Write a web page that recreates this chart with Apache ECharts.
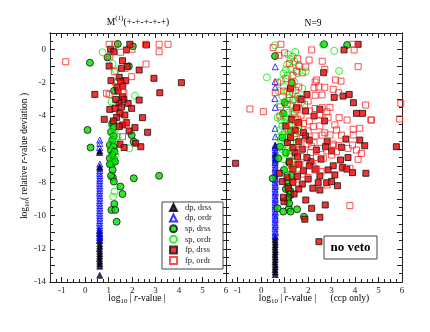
<!DOCTYPE html>
<html>
<head>
<meta charset="utf-8">
<script src="https://cdn.jsdelivr.net/npm/echarts@6/dist/echarts.min.js"></script>
<style>
html, body { margin: 0; padding: 0; background: #fff; }
#main { width: 430px; height: 332px; }
</style>
</head>
<body>
<div id="main"></div>
<script>
// ---- data: [log10|r-value|, log10(relative r-value deviation)] ----
var seriesNames = ['dp, drss', 'dp, ordr', 'sp, drss', 'sp, ordr', 'fp, drss', 'fp, ordr'];

// left panel: M(1)(+-+-+-+-+)
var leftDpDrss = [[0.62,-6.1],[0.61,-6.2],[0.62,-7.05],[0.62,-7.15],[0.61,-10.9],[0.62,-11.1],[0.62,-11.3],[0.61,-11.5],
  [0.62,-11.7],[0.62,-11.85],[0.61,-12.0],[0.62,-12.15],[0.62,-12.3],[0.62,-12.45],[0.61,-12.6],[0.62,-12.75],
  [0.62,-12.9],[0.62,-13.05],[0.62,-13.6]];
var leftDpOrdr = [[0.62,-5.45],[0.62,-5.65],[0.61,-5.9],[0.62,-6.9],[0.62,-7.3],[0.61,-7.45],[0.62,-7.6],[0.62,-7.75],
  [0.62,-7.9],[0.61,-8.05],[0.62,-8.2],[0.62,-8.35],[0.62,-8.5],[0.61,-8.65],[0.62,-8.8],[0.62,-8.95],[0.62,-9.1],
  [0.61,-9.25],[0.62,-9.4],[0.62,-9.55],[0.62,-9.7],[0.61,-9.85],[0.62,-10.0],[0.62,-10.15],[0.62,-10.3],[0.61,-10.45],
  [0.62,-10.6],[0.62,-10.75],[0.62,-10.9],[0.61,-11.05],[0.62,-11.2],[0.62,-11.35],[0.62,-11.5]];
var leftSpDrss = [[1.39,0.34],[2.03,0.2],[0.2,-0.79],[0.95,-0.47],[1.86,-1.0],[0.1,-4.84],[0.23,-5.9],[1.98,-5.15],
  [2.07,-5.55],[1.23,-2.48],[1.15,-4.45],[1.2,-4.7],[1.1,-4.95],[1.22,-5.2],[1.15,-5.45],[1.05,-5.75],[1.2,-5.85],
  [1.1,-6.05],[1.25,-6.15],[1.15,-6.35],[1.05,-6.55],[1.22,-6.6],[1.12,-6.9],[1.27,-6.75],[1.17,-7.25],[1.18,-7.7],
  [1.1,-7.6],[1.22,-7.95],[2.07,-7.75],[3.15,-7.6],[1.5,-8.25],[1.59,-8.7],[1.24,-9.3],[1.12,-9.66],[1.28,-9.66],
  [1.34,-10.37],[1.05,-6.9]];
var leftSpOrdr = [[0.74,-0.16],[1.17,-0.87],[1.31,-1.27],[2.12,-2.78],[1.12,-3.14],[1.25,-4.3],[1.15,-4.6],[1.3,-4.75],
  [1.1,-5.0],[1.25,-5.1],[1.18,-5.35],[1.3,-5.6],[1.08,-5.7],[1.22,-5.95],[1.12,-6.2],[1.28,-6.35],[1.2,-6.6],
  [1.1,-6.85],[1.87,-5.95],[1.14,-5.63],[1.25,-8.55],[1.19,-8.86],[1.38,-5.25],[1.4,-1.9]];
var leftFpDrss = [[1.08,0.02],[1.22,-0.13],[1.9,0.32],[1.76,-0.02],[2.61,0.28],[1.59,-0.67],[1.02,-0.99],[1.55,-1.13],
  [2.3,-1.23],[1.79,-1.03],[2.93,-1.73],[4.1,-1.99],[3.18,-2.6],[0.41,-2.7],[1.1,-1.87],[1.45,-1.67],[1.73,-1.87],
  [1.51,-1.93],[1.36,-2.27],[1.59,-2.84],[1.65,-3.0],[1.44,-3.24],[1.83,-3.24],[2.3,-3.04],[1.05,-3.6],[1.27,-3.54],
  [1.48,-3.84],[1.69,-3.94],[1.98,-3.54],[1.34,-4.08],[0.81,-4.2],[2.44,-4.1],[1.59,-4.54],[1.76,-4.4],[1.45,-4.64],
  [2.12,-4.7],[1.87,-4.9],[2.66,-4.98],[1.48,-5.7],[2.15,-5.64],[2.37,-5.85],[1.66,-5.9],[1.4,-2.5],[1.3,-3.0],
  [1.55,-3.45],[1.2,-4.3],[1.6,-2.2]];
var leftFpOrdr = [[-0.83,-0.73],[1.02,0.32],[1.27,0.32],[2.57,0.32],[3.15,0.32],[3.53,0.32],[3.15,-0.13],[1.51,-0.16],
  [2.0,0.02],[1.05,-0.43],[2.59,-0.87],[1.24,-1.33],[1.69,-1.13],[1.98,-1.63],[1.29,-1.97],[1.48,-2.19],[0.91,-2.63],
  [1.02,-2.7],[1.58,-2.47],[1.44,-3.64],[1.76,-4.44],[1.59,-5.25],[1.65,-2.6]];

// right panel: N=9
var rightDpDrss = [[0.6,-5.8],[0.59,-6.3],[0.6,-6.6],[0.6,-11.3],[0.59,-11.45],[0.6,-11.6],[0.6,-11.75],[0.59,-11.9],
  [0.6,-12.05],[0.6,-12.2],[0.59,-12.35],[0.6,-12.5],[0.6,-12.65],[0.59,-12.8],[0.6,-12.95],[0.6,-13.1],[0.59,-13.25],
  [0.6,-13.4],[0.6,-13.55]];
var rightDpOrdr = [[0.6,-1.03],[0.59,-1.93],[0.6,-2.27],[0.58,-2.94],[0.6,-3.48],[0.59,-4.74],[0.6,-5.25],[0.6,-5.75],
  [0.59,-5.9],[0.6,-6.05],[0.6,-6.2],[0.59,-6.4],[0.6,-6.5],[0.6,-6.7],[0.59,-6.8],[0.6,-6.95],[0.6,-7.1],[0.59,-7.2],
  [0.6,-7.35],[0.6,-7.5],[0.59,-7.6],[0.6,-7.75],[0.6,-7.85],[0.59,-8.0],[0.6,-8.15],[0.6,-8.25],[0.59,-8.4],[0.6,-8.55],
  [0.6,-8.65],[0.59,-8.8],[0.6,-8.95],[0.6,-9.05],[0.59,-9.2],[0.6,-9.35],[0.6,-9.45],[0.59,-9.6],[0.6,-9.75],
  [0.6,-9.85],[0.59,-10.0],[0.6,-10.15],[0.6,-10.25],[0.59,-10.4],[0.6,-10.55],[0.6,-10.65],[0.59,-10.8],[0.6,-10.95],
  [0.6,-11.05],[0.59,-11.2]];
var rightSpDrss = [[0.59,-0.39],[2.68,0.32],[3.66,0.28],[0.94,-3.84],[0.8,-5.85],[0.73,-6.55],[1.19,-6.81],[0.49,-7.76],
  [0.97,-7.25],[1.15,-8.26],[1.22,-8.56],[1.25,-8.76],[1.15,-8.96],[1.12,-9.06],[0.7,-9.56],[0.94,-9.76],[1.18,-9.56],
  [1.25,-9.76],[1.53,-9.62],[1.82,-10.07],[1.19,-9.26],[1.05,-8.4],[1.24,-8.52],[1.3,-2.0],[1.0,-3.2],[1.25,-4.9],
  [0.9,-5.3],[1.05,-6.2],[1.3,-7.6],[1.1,-7.9]];
var rightSpOrdr = [[0.59,0.26],[1.45,-0.14],[1.34,-0.41],[1.24,-0.57],[1.41,-0.71],[1.1,-0.91],[1.27,-1.11],[1.05,-1.21],
  [1.9,-1.31],[0.24,-1.67],[1.55,-1.41],[1.12,-1.57],[0.98,-2.21],[1.27,-2.21],[1.12,-2.51],[0.91,-2.82],[1.2,-2.92],
  [1.34,-2.61],[1.02,-3.12],[1.27,-3.32],[1.08,-3.58],[1.48,-3.62],[2.64,0.3],[3.11,-0.07],[3.32,-1.29],[0.85,-1.9],
  [1.4,-1.95],[0.8,-3.3],[1.15,-3.8],[0.95,-3.95],[1.35,-3.9],[1.05,-4.1],[1.25,-4.15],[0.85,-4.25],[1.45,-4.3],
  [1.0,-4.4],[1.2,-4.5],[0.9,-4.6],[1.35,-4.65],[1.1,-4.75],[0.8,-4.85],[1.0,-4.95],[1.25,-4.95],[1.55,-4.9],
  [0.9,-5.15],[1.15,-5.2],[1.4,-5.25],[1.05,-5.4],[0.85,-5.5],[1.25,-5.55],[1.0,-5.7],[1.5,-5.65],[1.15,-5.9],
  [0.9,-6.0],[1.3,-6.05],[1.05,-6.25],[1.2,-6.45],[0.95,-6.6],[1.3,-6.75],[1.1,-6.95],[1.45,-6.95],[1.2,-7.2],
  [1.05,-7.45],[1.3,-7.5],[0.75,-5.3],[0.7,-4.1],[1.6,-4.55],[1.7,-3.2],[1.55,-2.85],[0.95,-1.45],[1.15,-0.3],
  [1.6,-0.95],[1.75,-2.35],[0.75,-2.5],[1.4,-3.0]];
var rightFpDrss = [[4.13,0.32],[3.53,-0.02],[2.66,-1.39],[1.95,-2.7],[3.11,-2.88],[3.49,-2.8],[3.75,-2.7],[3.93,-3.2],
  [4.32,-3.84],[4.06,-3.84],[5.76,-5.85],[-1.09,-6.85],[1.89,-3.7],[2.5,-3.6],[3.61,-5.39],[4.2,-5.45],[4.41,-5.79],
  [2.81,-5.55],[1.89,-5.2],[1.12,-5.6],[1.44,-6.2],[0.77,-7.45],[0.97,-9.16],[1.9,-9.06],[2.15,-9.56],[2.73,-9.36],
  [1.86,-10.22],[2.5,-10.1],[2.46,-11.57],[4.46,-7.45],[2.5,-8.46],[3.25,-8.2],[3.38,-6.65],[3.07,-7.0],[3.47,-7.09],
  [3.65,-7.2],[3.89,-7.41],[2.85,-7.25],[3.14,-7.55],[2.5,-7.61],[2.79,-8.02],[3.0,-7.95],[2.43,-8.02],[2.74,-5.85],
  [2.12,-6.75],[3.42,-5.89],[1.3,-4.2],[1.6,-4.4],[1.05,-4.6],[1.45,-4.85],[1.8,-5.0],[1.25,-5.3],[1.6,-5.55],
  [2.05,-5.45],[1.35,-5.9],[1.75,-6.0],[2.35,-6.05],[1.55,-6.45],[1.95,-6.5],[2.55,-6.6],[1.2,-6.75],[1.6,-6.9],
  [2.05,-7.0],[2.3,-7.2],[1.35,-7.2],[1.8,-7.3],[1.1,-7.7],[1.55,-7.65],[2.0,-7.8],[1.35,-8.0],[1.75,-8.1],[1.15,-8.35],
  [0.9,-7.95],[1.6,-8.4],[2.2,-8.35],[1.4,-8.7],[0.95,-8.9],[1.7,-3.0],[1.5,-3.5],[2.25,-4.0],[2.7,-4.3],[3.0,-6.1],
  [3.7,-6.5],[1.25,-2.35]];
var rightFpOrdr = [[0.51,0.12],[0.84,0.32],[3.89,0.32],[3.96,-0.02],[2.15,-0.02],[2.04,-0.63],[1.55,-0.55],[1.2,-0.85],
  [1.62,-1.0],[4.13,-1.03],[1.9,-1.05],[1.5,-1.3],[2.71,-1.19],[1.35,-1.55],[1.75,-1.4],[1.05,-1.75],[2.36,-1.83],
  [2.3,-1.95],[3.17,-1.83],[3.4,-1.9],[1.3,-2.0],[1.6,-2.25],[2.25,-2.3],[2.45,-2.25],[2.71,-2.27],[3.07,-2.39],
  [1.45,-2.45],[0.95,-2.5],[1.2,-2.7],[2.59,-2.73],[2.3,-2.75],[0.6,-2.6],[1.65,-2.95],[1.35,-3.05],[2.0,-3.1],
  [1.85,-3.3],[2.93,-3.48],[1.1,-3.3],[0.82,-3.45],[1.55,-3.5],[2.3,-3.55],[2.6,-3.5],[2.05,-3.7],[1.4,-3.75],
  [2.5,-3.9],[2.8,-3.75],[1.7,-3.95],[0.09,-3.74],[-0.48,-3.58],[4.45,-3.34],[5.95,-3.24],[5.9,-4.18],[4.67,-4.24],
  [3.32,-4.1],[3.66,-4.24],[3.92,-4.8],[4.2,-4.74],[3.92,-5.14],[3.14,-4.54],[2.93,-5.14],[2.6,-5.15],[2.3,-5.2],
  [2.0,-4.9],[2.5,-4.6],[2.05,-4.3],[1.8,-4.45],[1.55,-4.2],[1.3,-4.5],[1.6,-4.75],[1.15,-4.9],[1.45,-5.05],
  [1.75,-5.3],[3.32,-5.79],[3.05,-5.8],[3.7,-5.95],[4.06,-6.05],[4.27,-6.25],[4.13,-6.61],[3.78,-7.15],[3.45,-7.15],
  [2.81,-8.16],[3.78,-9.4],[2.36,-7.19],[1.35,-5.6],[1.6,-5.75],[1.95,-5.7],[2.25,-5.6],[2.55,-5.95],[2.8,-6.1],
  [2.1,-6.2],[1.5,-6.05],[1.25,-6.3],[1.7,-6.45],[2.35,-6.5],[2.65,-6.55],[3.0,-6.35],[1.45,-6.8],[1.9,-6.9],
  [2.2,-7.0],[1.6,-7.2],[1.3,-7.0],[2.55,-7.35],[1.75,-7.5],[2.0,-7.7],[1.5,-7.8],[1.25,-7.55],[0.8,-4.0],[0.7,-2.0],
  [0.75,-0.35],[1.0,-0.2],[2.6,-0.7],[3.3,-2.6],[2.5,-3.94],[2.85,-4.08],[2.22,-4.64],[2.71,-5.01],[3.21,-4.84],
  [3.42,-5.15],[4.7,-4.24],[3.89,-5.75],[3.07,-5.69],[3.21,-6.15],[2.14,-5.85],[2.29,-7.25]];

// ---- axes ----
var xLabels = [-1, 0, 1, 2, 3, 4, 5, 6];
var xMajor = [-1, 0, 1, 2, 3, 4, 5, 6];
var yLabels = [0, -2, -4, -6, -8, -10, -12, -14];
var yMajor = [0, -1, -2, -3, -4, -5, -6, -7, -8, -9, -10, -11, -12, -13, -14];
var xMinor = [], yMinor = [];
for (var v = -1.5; v <= 6; v += 0.25) xMinor.push(v);
for (var w = 1; w >= -14; w -= 0.5) yMinor.push(w);

var font = 'Liberation Serif';
var ink = '#222';

function xAxisDef(g, pos, ticks, len, labels) {
  return {
    type: 'value', gridIndex: g, position: pos, min: -1.5, max: 6,
    axisLine: { show: true, onZero: false, lineStyle: { color: ink, width: 1 } },
    axisTick: { show: true, inside: true, length: len, customValues: ticks, lineStyle: { color: ink } },
    axisLabel: { show: labels, customValues: xLabels, margin: 4, fontFamily: font, fontSize: 9, color: ink },
    splitLine: { show: false }
  };
}
function yAxisDef(g, pos, ticks, len, labels) {
  return {
    type: 'value', gridIndex: g, position: pos, min: -14, max: 1,
    axisLine: { show: true, onZero: false, lineStyle: { color: ink, width: 1 } },
    axisTick: { show: true, inside: true, length: len, customValues: ticks, lineStyle: { color: ink } },
    axisLabel: { show: labels, customValues: yLabels, margin: 4, fontFamily: font, fontSize: 9, color: ink },
    splitLine: { show: false }
  };
}

var xAxes = [], yAxes = [];
[0, 1].forEach(function (g) {
  xAxes.push(xAxisDef(g, 'bottom', xMinor, 3, true));
  xAxes.push(xAxisDef(g, 'bottom', xMajor, 5, false));
  xAxes.push(xAxisDef(g, 'top', xMinor, 3, false));
  xAxes.push(xAxisDef(g, 'top', xMajor, 5, false));
  yAxes.push(yAxisDef(g, 'left', yMinor, 3, g === 0));
  yAxes.push(yAxisDef(g, 'left', yMajor, 5, false));
  yAxes.push(yAxisDef(g, 'right', yMinor, 3, false));
  yAxes.push(yAxisDef(g, 'right', yMajor, 5, false));
});

// ---- marker styles ----
var styles = [
  { symbol: 'triangle', size: 6, itemStyle: { color: '#000050', borderColor: '#000', borderWidth: 0.8 } },
  { symbol: 'triangle', size: 6, itemStyle: { color: 'rgba(255,255,255,0)', borderColor: '#0000ff', borderWidth: 1 } },
  { symbol: 'circle', size: 7, itemStyle: { color: '#00dd00', borderColor: '#111', borderWidth: 1 } },
  { symbol: 'circle', size: 7, itemStyle: { color: 'rgba(255,255,255,0)', borderColor: '#00ee00', borderWidth: 1 } },
  { symbol: 'rect', size: 6, itemStyle: { color: '#ee0000', borderColor: '#111', borderWidth: 1 } },
  { symbol: 'rect', size: 6, itemStyle: { color: 'rgba(255,255,255,0)', borderColor: '#ff2222', borderWidth: 1 } }
];

var panels = [
  [leftDpDrss, leftDpOrdr, leftSpDrss, leftSpOrdr, leftFpDrss, leftFpOrdr],
  [rightDpDrss, rightDpOrdr, rightSpDrss, rightSpOrdr, rightFpDrss, rightFpOrdr]
];

var series = [];
panels.forEach(function (sets, g) {
  sets.forEach(function (data, i) {
    series.push({
      type: 'scatter', name: seriesNames[i], data: data,
      xAxisIndex: g * 4, yAxisIndex: g * 4,
      symbol: styles[i].symbol, symbolSize: styles[i].size,
      itemStyle: styles[i].itemStyle,
      emphasis: { disabled: true }, silent: true
    });
  });
});

var rich = {
  a: { fontFamily: font, fontSize: 9.5, color: ink, lineHeight: 14 },
  i: { fontFamily: font, fontSize: 9.5, color: ink, lineHeight: 14, fontStyle: 'italic' },
  sub: { fontFamily: font, fontSize: 7, color: ink, lineHeight: 14, verticalAlign: 'bottom' },
  sup: { fontFamily: font, fontSize: 7, color: ink, lineHeight: 14, verticalAlign: 'top' }
};

function label(x, y, text, rot) {
  return {
    type: 'text', x: x, y: y, rotation: rot || 0, silent: true,
    style: { text: text, rich: rich, align: 'center', verticalAlign: 'middle' }
  };
}

var myChart = echarts.init(document.getElementById('main'), null, { renderer: 'canvas' });

var option = {
  animation: false,
  backgroundColor: '#fff',
  grid: [
    { left: 50, top: 33, width: 176, height: 249 },
    { left: 226, top: 33, width: 176, height: 249 }
  ],
  xAxis: xAxes,
  yAxis: yAxes,
  legend: {
    left: 169, top: 203, orient: 'vertical', padding: 0,
    itemWidth: 7, itemHeight: 7, itemGap: 1.6,
    data: seriesNames, selectedMode: false, z: 10,
    textStyle: { fontFamily: font, fontSize: 8.5, lineHeight: 8, color: ink, padding: [0, 0, 0, 3] }
  },
  graphic: [
    { type: 'rect', shape: { x: 162, y: 202, width: 61, height: 67 }, z: 5,
      style: { fill: '#fff', stroke: '#444', lineWidth: 1 } },
    { type: 'rect', shape: { x: 324, y: 236, width: 53, height: 23 }, z: 5,
      style: { fill: '#fff', stroke: '#444', lineWidth: 1 } },
    { type: 'text', x: 350.5, y: 248, z: 6,
      style: { text: 'no veto', fontFamily: font, fontSize: 13, fontWeight: 'bold', fill: '#000',
               align: 'center', verticalAlign: 'middle' } },
    label(138, 22, '{a|M}{sup|(1)}{a|(+-+-+-+-+)}'),
    label(313, 23, '{a|N=9}'),
    label(137, 298, '{a|log}{sub|10}{a| | }{i|r}{a|-value |}'),
    label(314, 298, '{a|log}{sub|10}{a| | }{i|r}{a|-value |      (ccp only)}'),
    label(24, 156, '{a|log}{sub|10}{a|( relative }{i|r}{a|-value deviation )}', Math.PI / 2)
  ],
  series: series
};

myChart.setOption(option);
</script>
</body>
</html>
